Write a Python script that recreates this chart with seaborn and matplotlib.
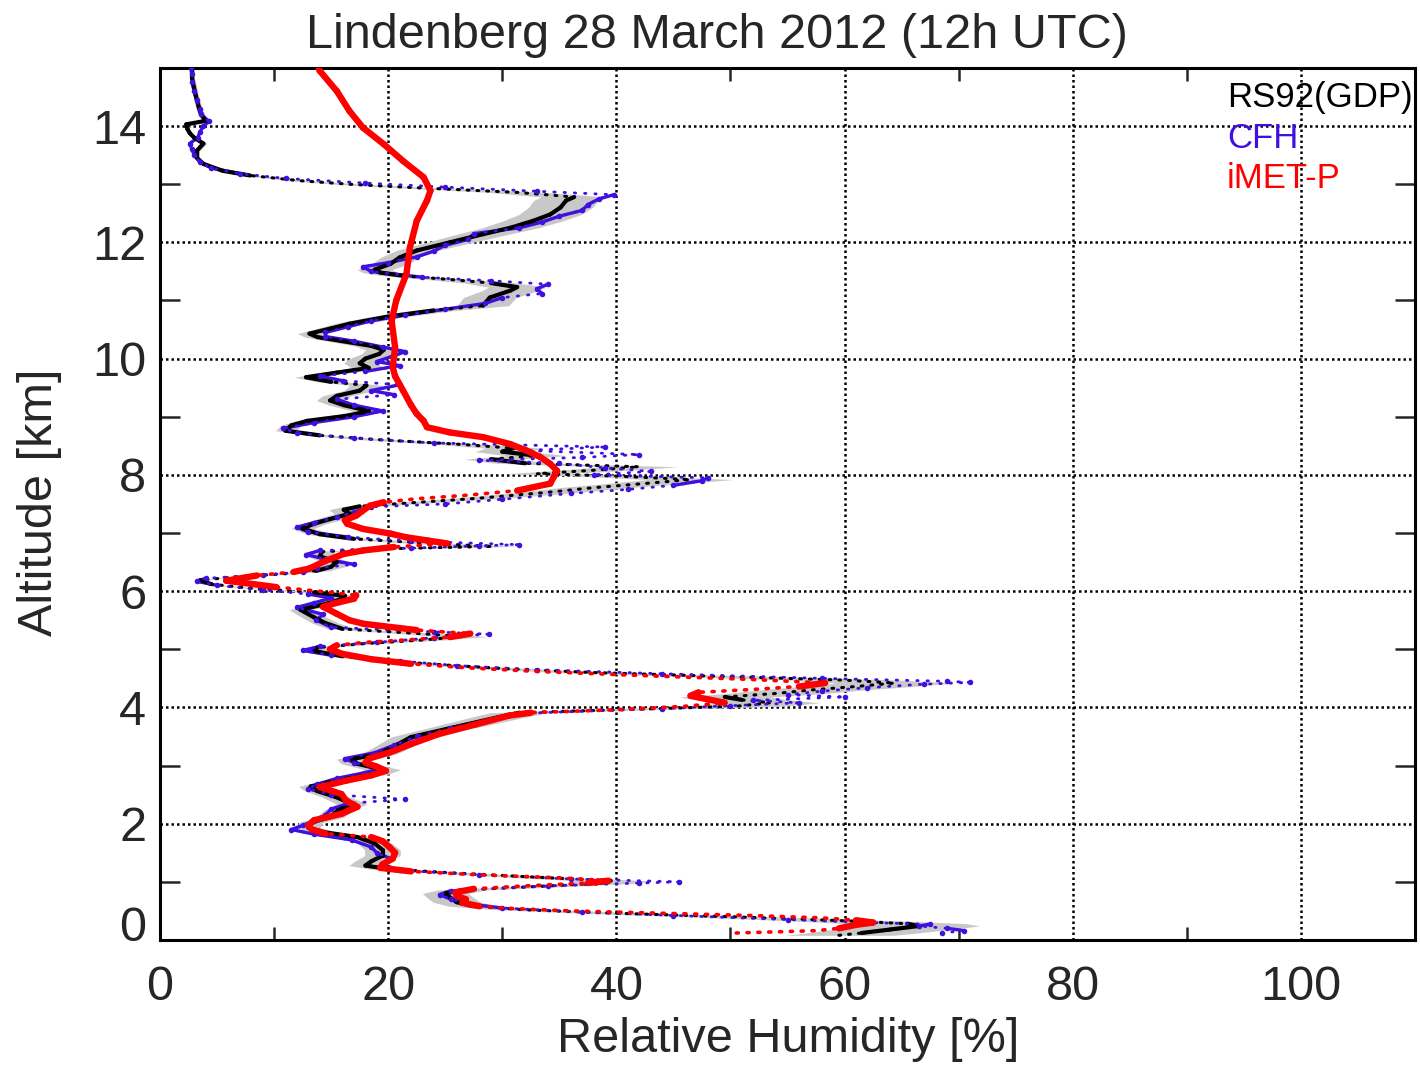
import seaborn as sns
import matplotlib.pyplot as plt
import numpy as np
import pandas as pd
from matplotlib.collections import LineCollection
from matplotlib.transforms import ScaledTranslation

# RS92 (GDP) profile: altitude [km] and relative humidity [%]
rs92_z = [0.08, 0.12, 0.18, 0.24, 0.28, 0.33, 0.40, 0.46, 0.52, 0.58, 0.65, 0.72, 0.80, 0.86,
          0.92, 0.98, 1.02, 1.08, 1.15, 1.22, 1.28, 1.35, 1.45, 1.55, 1.66, 1.77, 1.85, 1.93,
          2.02, 2.11, 2.23, 2.34, 2.46, 2.56, 2.64, 2.74, 2.85, 2.93, 3.03, 3.11, 3.20, 3.31,
          3.49, 3.66, 3.83, 3.91, 3.96, 4.02, 4.08, 4.13, 4.18, 4.24, 4.30, 4.36, 4.42, 4.47,
          4.53, 4.60, 4.67, 4.73, 4.80, 4.88, 4.97, 5.03, 5.10, 5.16, 5.22, 5.28, 5.35, 5.45,
          5.55, 5.68, 5.78, 5.86, 5.92, 5.98, 6.05, 6.12, 6.19, 6.25, 6.30, 6.35, 6.42, 6.50,
          6.60, 6.68, 6.73, 6.77, 6.82, 6.90, 6.98, 7.08, 7.16, 7.24, 7.33, 7.40, 7.46, 7.52,
          7.60, 7.70, 7.78, 7.86, 7.92, 7.98, 8.02, 8.08, 8.14, 8.20, 8.27, 8.33, 8.40, 8.46,
          8.53, 8.60, 8.68, 8.76, 8.85, 8.93, 9.02, 9.10, 9.20, 9.28, 9.36, 9.45, 9.54, 9.60,
          9.68, 9.76, 9.84, 9.92, 10.00, 10.08, 10.15, 10.22, 10.30, 10.37, 10.43, 10.52, 10.60,
          10.72, 10.83, 10.91, 11.05, 11.17, 11.23, 11.30, 11.36, 11.42, 11.48, 11.53, 11.63,
          11.74, 11.86, 12.00, 12.14, 12.25, 12.37, 12.48, 12.60, 12.72, 12.78, 12.86, 12.94,
          13.00, 13.06, 13.15, 13.23, 13.35, 13.46, 13.57, 13.70, 13.80, 13.88, 13.95, 14.03,
          14.09, 14.20, 14.32, 14.55, 14.83, 15.00]
rs92_rh = [59.5, 61.5, 64.0, 66.5, 65.5, 60.0, 50.0, 40.0, 32.0, 27.5, 26.0, 25.5, 25.0, 26.5,
           33.0, 39.0, 39.5, 33.0, 26.0, 20.0, 18.0, 18.5, 19.5, 19.5, 18.8, 17.3, 14.5, 13.0,
           13.2, 14.9, 15.6, 16.8, 15.4, 13.8, 13.2, 15.4, 18.5, 19.5, 17.3, 16.8, 19.2, 20.3,
           22.0, 25.8, 29.6, 31.5, 40.0, 50.5, 53.5, 51.0, 49.5, 54.0, 57.0, 61.0, 64.4, 60.0,
           50.0, 38.0, 30.0, 25.0, 20.0, 16.0, 13.5, 13.8, 18.0, 23.0, 26.6, 22.0, 16.0, 14.5,
           13.5, 12.3, 14.5, 15.8, 16.2, 13.5, 8.0, 4.5, 3.5, 7.0, 11.0, 13.7, 15.0, 15.5,
           14.0, 14.2, 20.0, 29.2, 24.0, 17.0, 14.0, 12.5, 13.5, 14.9, 16.6, 16.1, 17.5, 22.0,
           28.0, 34.0, 38.0, 43.0, 46.5, 40.0, 33.0, 38.0, 42.0, 32.0, 29.0, 33.0, 30.0, 31.0,
           26.0, 19.6, 14.0, 11.0, 11.5, 12.9, 16.5, 18.3, 16.1, 14.9, 15.5, 17.5, 18.1, 15.0,
           12.8, 15.5, 18.3, 17.5, 18.0, 19.2, 19.6, 18.5, 16.0, 13.8, 13.1, 15.0, 16.6,
           19.9, 24.0, 28.3, 28.9, 30.7, 31.3, 29.0, 25.5, 21.5, 19.3, 18.8, 20.2,
           21.0, 22.5, 25.4, 28.3, 30.7, 32.7, 34.2, 35.1, 35.6, 36.3, 31.3, 22.5,
           16.6, 12.3, 7.9, 5.5, 3.8, 3.2, 3.2, 3.8, 3.0, 2.6, 2.4, 2.3,
           4.0, 3.6, 3.4, 3.1, 2.8, 2.8]
rs92_rel_unc = 0.08

# CFH frost point hygrometer
cfh_z = [0.12, 0.16, 0.20, 0.24, 0.27, 0.30, 0.35, 0.42, 0.48, 0.55, 0.62, 0.70, 0.78, 0.85,
         0.93, 0.98, 1.00, 1.05, 1.12, 1.20, 1.30, 1.40, 1.50, 1.60, 1.72, 1.82, 1.90, 1.97,
         2.05, 2.15, 2.25, 2.35, 2.42, 2.50, 2.60, 2.68, 2.78, 2.88, 2.95, 3.05, 3.12, 3.22,
         3.35, 3.50, 3.65, 3.80, 3.90, 3.98, 4.03, 4.08, 4.12, 4.18, 4.22, 4.28, 4.34, 4.40,
         4.43, 4.45, 4.50, 4.58, 4.65, 4.72, 4.80, 4.90, 4.98, 5.05, 5.12, 5.20, 5.26, 5.30,
         5.38, 5.50, 5.60, 5.72, 5.80, 5.88, 5.95, 6.02, 6.10, 6.17, 6.22, 6.28, 6.33, 6.40,
         6.46, 6.55, 6.63, 6.70, 6.74, 6.78, 6.80, 6.86, 6.93, 7.02, 7.10, 7.18, 7.27, 7.36,
         7.45, 7.50, 7.58, 7.68, 7.75, 7.82, 7.90, 7.95, 8.00, 8.06, 8.12, 8.20, 8.25, 8.30,
         8.35, 8.42, 8.48, 8.55, 8.63, 8.72, 8.80, 8.90, 9.00, 9.10, 9.20, 9.30, 9.38, 9.45,
         9.55, 9.62, 9.70, 9.78, 9.88, 9.95, 10.05, 10.12, 10.20, 10.30, 10.38, 10.45, 10.55,
         10.65, 10.75, 10.85, 10.95, 11.05, 11.12, 11.20, 11.28, 11.34, 11.40, 11.50, 11.58,
         11.65, 11.75, 11.85, 11.95, 12.05, 12.15, 12.25, 12.35, 12.45, 12.55, 12.65, 12.75,
         12.82, 12.88, 12.95, 13.02, 13.10, 13.18, 13.28, 13.38, 13.50, 13.60, 13.70, 13.80,
         13.90, 14.00, 14.08, 14.20, 14.30, 14.45, 14.60, 14.75, 14.90, 15.00]
cfh_rh = [68.5, 70.5, 69.0, 66.5, 67.5, 62.0, 55.0, 45.0, 37.0, 30.0, 27.0, 25.5, 24.5, 25.5,
          34.0, 42.0, 45.5, 36.0, 28.0, 21.0, 19.5, 20.2, 19.0, 18.5, 16.8, 13.5, 11.5, 12.5,
          13.5, 14.5, 15.0, 16.5, 21.5, 15.0, 13.0, 13.8, 15.5, 18.0, 19.3, 17.0, 16.2, 18.8,
          20.5, 22.5, 25.5, 29.0, 32.0, 44.0, 50.0, 56.0, 52.0, 60.0, 55.0, 58.0, 62.0, 67.0,
          71.0, 69.0, 58.0, 44.0, 33.0, 26.0, 21.0, 15.0, 12.5, 14.0, 19.0, 24.0, 28.8, 24.0,
          15.0, 13.7, 14.3, 12.0, 13.5, 15.0, 13.0, 9.0, 5.0, 3.2, 4.0, 9.0, 12.5, 13.8,
          17.0, 14.5, 12.8, 14.0, 22.0, 28.0, 31.5, 22.0, 16.5, 13.0, 12.0, 13.5, 15.5, 17.0,
          18.5, 25.0, 30.0, 36.0, 41.0, 45.0, 47.5, 48.0, 38.0, 43.0, 39.0, 35.0, 28.0, 37.0,
          42.0, 32.0, 39.0, 24.0, 17.0, 12.0, 10.8, 13.5, 17.0, 19.5, 17.0, 15.5, 20.5, 18.5,
          21.0, 16.0, 14.0, 18.0, 21.0, 19.0, 20.5, 21.5, 19.5, 17.0, 14.5, 14.5, 16.5,
          18.5, 21.5, 25.0, 28.5, 30.0, 33.5, 33.0, 34.0, 29.0, 23.0, 18.5, 17.8,
          20.0, 22.5, 24.0, 25.0, 27.0, 27.5, 31.5, 33.5, 35.0, 37.0, 37.5, 38.5,
          39.8, 33.0, 25.0, 18.0, 11.0, 7.0, 4.5, 3.5, 3.0, 2.8, 2.6, 3.3,
          3.5, 3.8, 4.3, 3.6, 3.5, 3.2, 3.0, 2.8, 2.8, 2.7]

# iMET-P
imet_z = [0.12, 0.14, 0.16, 0.20, 0.26, 0.30, 0.34, 0.38, 0.42, 0.46, 0.50, 0.54, 0.58, 0.64,
          0.70, 0.76, 0.82, 0.88, 0.93, 0.98, 1.02, 1.07, 1.12, 1.18, 1.24, 1.30, 1.40, 1.50,
          1.60, 1.70, 1.77, 1.83, 1.90, 1.97, 2.06, 2.17, 2.29, 2.40, 2.51, 2.63, 2.74, 2.83,
          2.91, 2.98, 3.05, 3.12, 3.23, 3.37, 3.54, 3.71, 3.86, 3.91, 3.96, 4.02, 4.08, 4.14,
          4.20, 4.26, 4.31, 4.36, 4.42, 4.48, 4.55, 4.62, 4.68, 4.75, 4.83, 4.92, 5.00, 5.07,
          5.12, 5.16, 5.21, 5.27, 5.33, 5.44, 5.50, 5.61, 5.73, 5.80, 5.87, 5.93, 5.98, 6.07,
          6.18, 6.27, 6.33, 6.39, 6.53, 6.64, 6.70, 6.76, 6.82, 6.87, 6.93, 6.99, 7.07, 7.16,
          7.22, 7.30, 7.39, 7.47, 7.53, 7.59, 7.65, 7.73, 7.85, 7.96, 8.07, 8.19, 8.31, 8.42,
          8.53, 8.65, 8.73, 8.82, 8.93, 9.05, 9.20, 9.45, 9.70, 9.85, 10.20, 10.65, 11.00,
          11.46, 11.91, 12.37, 12.72, 12.89, 13.12, 13.40, 13.69, 13.97, 14.26, 14.60, 14.95,
          15.00]
imet_rh = [50.5, 54.0, 57.5, 59.5, 61.0, 62.5, 61.0, 58.0, 52.0, 44.0, 36.0, 31.0, 28.0, 26.5,
           26.8, 26.0, 25.9, 27.5, 32.0, 37.5, 39.3, 35.0, 28.0, 22.0, 19.3, 19.5, 20.4, 20.6,
           20.1, 19.5, 18.5, 14.5, 13.3, 13.0, 13.5, 15.9, 17.3, 16.3, 15.9, 14.0, 16.3, 18.5,
           19.8, 19.0, 18.0, 18.3, 20.2, 22.0, 24.4, 27.7, 30.6, 32.5, 40.0, 46.0, 49.5, 48.0,
           46.5, 47.2, 52.0, 56.0, 58.3, 52.0, 42.0, 33.0, 27.0, 22.0, 18.5, 16.0, 14.9, 15.5,
           18.0, 21.5, 25.4, 27.2, 22.5, 17.8, 16.6, 15.5, 14.3, 15.5, 17.0, 17.2, 14.9, 10.2,
           5.8, 8.5, 11.7, 13.1, 14.6, 16.1, 17.8, 20.5, 25.2, 23.5, 21.5, 20.2, 17.8, 16.4,
           16.2, 17.2, 17.8, 18.4, 19.6, 22.5, 26.9, 31.3, 34.2, 34.5, 34.8, 34.2, 33.3, 32.1,
           30.7, 28.3, 25.4, 23.4, 23.1, 22.5, 22.0, 21.3, 20.6, 20.4, 20.6, 20.3, 20.7,
           21.6, 21.9, 22.5, 23.4, 23.7, 23.1, 21.3, 19.6, 17.8, 16.6, 15.5, 14.0,
           13.9]

x_major = [0, 20, 40, 60, 80, 100]
x_minor = [10, 30, 50, 70, 90, 110]
y_major = [0, 2, 4, 6, 8, 10, 12, 14]
y_minor = [1, 3, 5, 7, 9, 11, 13, 15]

title = "Lindenberg 28 March 2012 (12h UTC)"
cfh_color = "#4010e0"

sns.set_style("white")
plt.rcParams['font.family'] = ['Liberation Sans', 'DejaVu Sans']

rs92 = pd.DataFrame({"z": rs92_z, "rh": rs92_rh})
cfh = pd.DataFrame({"z": cfh_z, "rh": cfh_rh})
imet = pd.DataFrame({"z": imet_z, "rh": imet_rh})

fig = plt.figure(figsize=(14.2, 10.65), dpi=100)
ax = fig.add_axes([0.1127, 0.1174, 0.8838, 0.8188])
ax.set_xlim(0, 110)
ax.set_ylim(0, 15)


def steep_segments(df, ratio=9.0):
    # the sonde samples evenly in height, so near-vertical parts of a profile
    # merge into a solid trace and only flat excursions break up into dots
    pts = ax.transData.transform(df[["rh", "z"]].to_numpy())
    d = np.diff(pts, axis=0)
    steep = np.abs(d[:, 0]) <= ratio * np.abs(d[:, 1])
    xy = df[["rh", "z"]].to_numpy()
    return [xy[i:i + 2] for i in np.flatnonzero(steep)]


# uncertainty band of the RS92 profile
ax.fill_betweenx(rs92["z"], rs92["rh"] * (1 - rs92_rel_unc), rs92["rh"] * (1 + rs92_rel_unc),
                 color="#c8c8c8", lw=0, zorder=1)

# CFH trace sits just under the RS92 line and peeks out where the two differ
ax.add_collection(LineCollection(steep_segments(cfh), colors=cfh_color, linewidths=2.4,
                                 capstyle="round", zorder=1.8))

sns.lineplot(data=rs92, x="rh", y="z", sort=False, estimator=None, color="black",
             lw=2.2, linestyle=(0, (0.6, 2.6)), dash_capstyle="round", ax=ax, zorder=2)
ax.add_collection(LineCollection(steep_segments(rs92), colors="black", linewidths=3.0,
                                 capstyle="round", zorder=2))

sns.lineplot(data=cfh, x="rh", y="z", sort=False, estimator=None, color=cfh_color,
             lw=2.0, linestyle=(0, (0.5, 3.2)), dash_capstyle="round", ax=ax, zorder=3)
sns.scatterplot(data=cfh, x="rh", y="z", color=cfh_color, s=16, linewidth=0, ax=ax, zorder=3)

sns.lineplot(data=imet, x="rh", y="z", sort=False, estimator=None, color="red",
             lw=2.6, linestyle=(0, (0.6, 2.4)), dash_capstyle="round", ax=ax, zorder=4)
ax.add_collection(LineCollection(steep_segments(imet), colors="red", linewidths=4.6,
                                 capstyle="round", zorder=4))

ax.set_xlim(0, 110)
ax.set_ylim(0, 15)
ax.set_xticks(x_major)
ax.set_xticks(x_minor, minor=True)
ax.set_yticks(y_major)
ax.set_yticks(y_minor, minor=True)
ax.set_xlabel("")
ax.set_ylabel("")

ax.grid(True, which="major", color="black", lw=1.8, linestyle=(0, (1, 1.2)))
ax.tick_params(which="major", length=0, labelsize=35)
ax.tick_params(axis="x", which="major", pad=18)
ax.tick_params(axis="y", which="major", pad=10)
ax.tick_params(axis="x", which="minor", direction="in", length=9.5, width=1.8,
               top=True, bottom=True)
ax.tick_params(axis="y", which="minor", direction="in", length=14.5, width=1.8,
               left=True, right=True)
for sp in ax.spines.values():
    sp.set_linewidth(2.2)
    sp.set_color("black")

# IDL lifts the zero label of the altitude axis
lab0 = ax.get_yticklabels()[0]
lab0.set_transform(lab0.get_transform() + ScaledTranslation(0, 0.16, fig.dpi_scale_trans))

fig.text(0.505, 0.955, title, ha="center", va="baseline", fontsize=35)
fig.text(0.555, 0.012, "Relative Humidity [%]", ha="center", va="baseline", fontsize=35)
fig.text(0.028, 0.528, "Altitude [km]", ha="center", va="center", rotation=90, fontsize=35)

ax.text(0.850, 0.955, "RS92(GDP)", transform=ax.transAxes, fontsize=25, color="black",
        va="baseline", clip_on=False)
ax.text(0.850, 0.908, "CFH", transform=ax.transAxes, fontsize=25, color=cfh_color,
        va="baseline")
ax.text(0.850, 0.862, "iMET-P", transform=ax.transAxes, fontsize=25, color="red",
        va="baseline")

fig.savefig("out.png", dpi=100)
